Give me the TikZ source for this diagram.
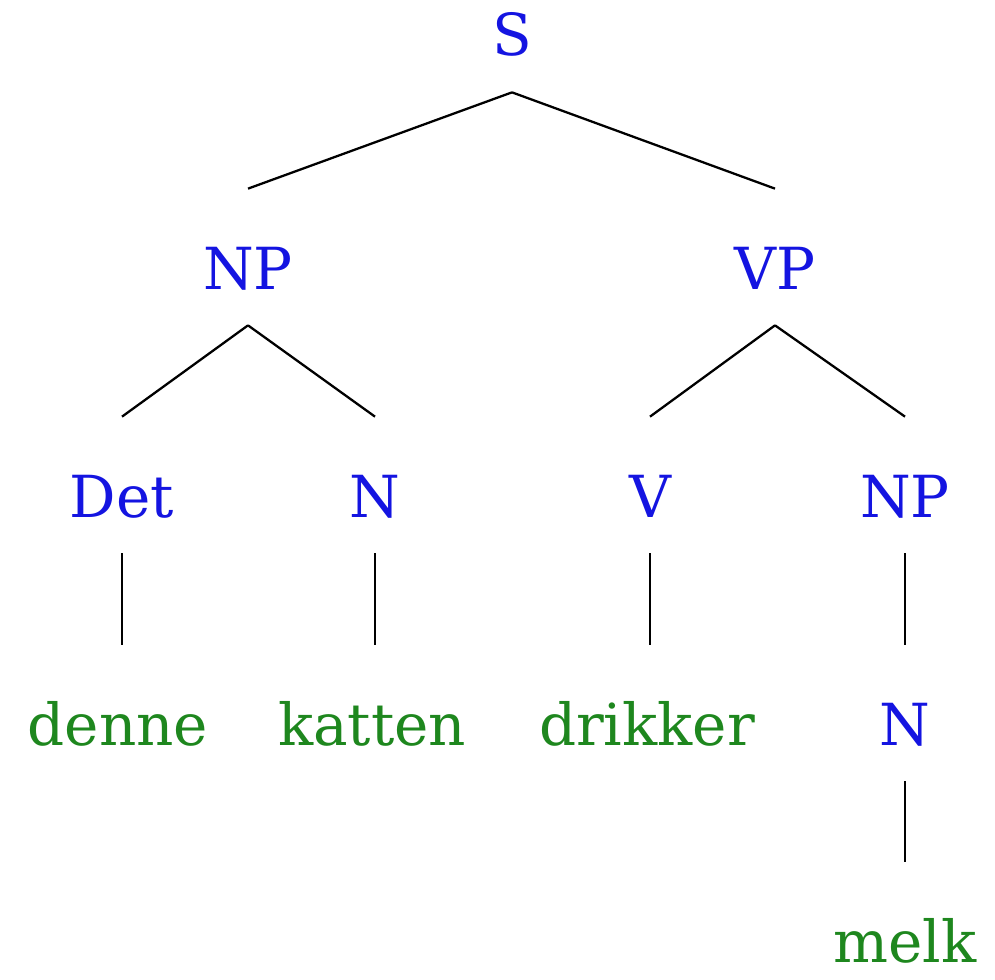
\documentclass[tikz,border=0pt]{standalone}
\usepackage{fontspec}
\setmainfont{DejaVu Serif}
\usepackage{tikz}
\usetikzlibrary{positioning}

\definecolor{catblue}{RGB}{20,20,225}
\definecolor{wordgreen}{RGB}{30,135,30}

\tikzset{
  cat/.style  = {text = catblue, inner sep = 0pt, anchor = base,
                 text height = 2cm, text depth = 0.72cm,
                 font = \fontsize{33}{40}\selectfont},
  word/.style = {cat, text = wordgreen},
  branch/.style = {line width = 1.3pt}
}

\begin{document}
\begin{tikzpicture}
  \useasboundingbox (0,0) rectangle (19.9,-19.58);

  % root
  \node[cat] (S) at (10.24,-1.12) {S};

  % phrases
  \node[cat] (NP) at (4.96,-5.78) {NP};
  \node[cat] (VP) at (15.5,-5.78) {VP};

  % categories
  \node[cat] (Det) at (2.44,-10.34) {Det};
  \node[cat] (N)   at (7.5,-10.34)  {N};
  \node[cat] (V)   at (13.0,-10.34) {V};
  \node[cat] (NPo) at (18.1,-10.34) {NP};

  % words
  \node[word] (denne)   at (2.36,-14.9)  {denne};
  \node[word] (katten)  at (7.44,-14.9)  {katten};
  \node[word] (drikker) at (12.94,-14.9) {drikker};
  \node[cat]  (No)      at (18.1,-14.9)  {N};
  \node[word] (melk)    at (18.1,-19.25) {melk};

  % branches
  \draw[branch] (S.south) -- (NP.north);
  \draw[branch] (S.south) -- (VP.north);
  \draw[branch] (NP.south) -- (Det.north);
  \draw[branch] (NP.south) -- (N.north);
  \draw[branch] (VP.south) -- (V.north);
  \draw[branch] (VP.south) -- (NPo.north);
  % straight down to the words
  \draw[branch] (Det.south) -- (Det.south |- denne.north);
  \draw[branch] (N.south) -- (N.south |- katten.north);
  \draw[branch] (V.south) -- (V.south |- drikker.north);
  \draw[branch] (NPo.south) -- (No.north);
  \draw[branch] (No.south) -- (melk.north);
\end{tikzpicture}
\end{document}
